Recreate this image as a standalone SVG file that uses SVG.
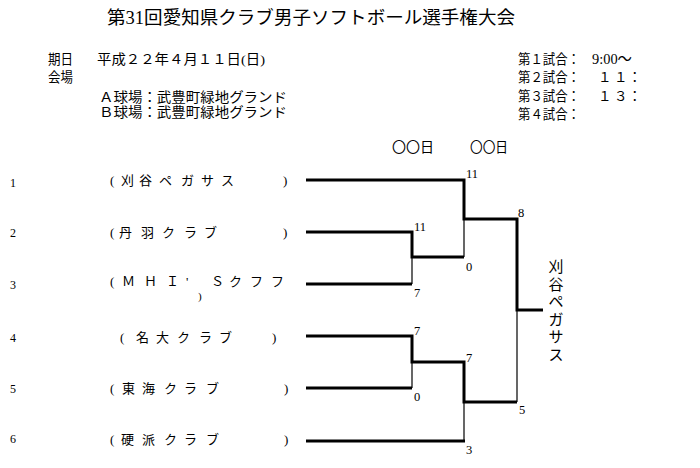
<svg xmlns="http://www.w3.org/2000/svg" width="700" height="468" viewBox="0 0 700 468">
<style>
  text { font-family: "Liberation Serif", "Noto Sans CJK JP", serif; fill: #000; }
  .title { font-size: 18px; }
  .hd { font-size: 13.5px; }
  .time { font-size: 15px; }
  .team { font-size: 13px; }
  .paren { font-size: 11px; }
  .num { font-size: 12px; }
  .score { font-size: 12.5px; }
  .win { font-size: 15px; }
  .thick { fill: none; stroke: #000; stroke-width: 3; stroke-linejoin: miter; stroke-linecap: butt; }
  .thin { fill: none; stroke: #000; stroke-width: 1.2; }
</style>
<rect width="700" height="468" fill="#fff"/>

<g id="header">
  <text class="title" x="107" y="24" textLength="408" lengthAdjust="spacingAndGlyphs">第31回愛知県クラブ男子ソフトボール選手権大会</text>
  <text class="hd" x="48" y="64" textLength="25" lengthAdjust="spacingAndGlyphs">期日</text>
  <text class="hd" x="48" y="82" textLength="25" lengthAdjust="spacingAndGlyphs">会場</text>
  <text class="hd" x="97" y="64" textLength="168" lengthAdjust="spacingAndGlyphs">平成２２年４月１１日(日)</text>
  <text class="hd" x="99" y="102" textLength="188" lengthAdjust="spacingAndGlyphs">Ａ球場：武豊町緑地グランド</text>
  <text class="hd" x="99" y="117" textLength="188" lengthAdjust="spacingAndGlyphs">Ｂ球場：武豊町緑地グランド</text>
  <text class="hd" x="518" y="64" textLength="62" lengthAdjust="spacingAndGlyphs">第１試合：</text>
  <text class="time" x="592" y="64" textLength="40" lengthAdjust="spacingAndGlyphs">9:00～</text>
  <text class="hd" x="518" y="82" textLength="62" lengthAdjust="spacingAndGlyphs">第２試合：</text>
  <text class="hd" x="598 614 628" y="82">１１：</text>
  <text class="hd" x="518" y="101" textLength="62" lengthAdjust="spacingAndGlyphs">第３試合：</text>
  <text class="hd" x="598 614 628" y="101">１３：</text>
  <text class="hd" x="518" y="119" textLength="62" lengthAdjust="spacingAndGlyphs">第４試合：</text>
  <text class="hd" x="392" y="152" textLength="42" lengthAdjust="spacingAndGlyphs">〇〇日</text>
  <text class="hd" x="470" y="152" textLength="38" lengthAdjust="spacingAndGlyphs">〇〇日</text>
</g>

<g id="team1">
  <text class="num" x="10" y="187">1</text>
  <text class="team" x="110 121 139 159 181 201 221 283" y="185">(刈谷ペガサス)</text>
</g>
<g id="team2">
  <text class="num" x="10" y="237">2</text>
  <text class="team" x="110 119 141 162 184 204 283" y="237">(丹羽クラブ)</text>
</g>
<g id="team3">
  <text class="num" x="10" y="289">3</text>
  <text class="team" x="110 122 144 166 186 211 229 250 271" y="286">(ＭＨＩ'Ｓクフフ</text>
  <text class="paren" x="198" y="300">)</text>
</g>
<g id="team4">
  <text class="num" x="10" y="342">4</text>
  <text class="team" x="120 136 156 177 199 219 272" y="342">(名大クラブ)</text>
</g>
<g id="team5">
  <text class="num" x="10" y="393">5</text>
  <text class="team" x="110 122 142 164 184 206 284" y="393">(東海クラブ)</text>
</g>
<g id="team6">
  <text class="num" x="10" y="443">6</text>
  <text class="team" x="110 121 142 164 184 206 284" y="444">(硬派クラブ)</text>
</g>

<g id="connectors">
  <path class="thick" d="M306,180 H464 V219 H517 V310 H543"/>
  <path class="thick" d="M306,232 H412 V257 H464"/>
  <path class="thick" d="M306,284 H412"/>
  <path class="thick" d="M306,336 H412 V362 H464 V402 H517"/>
  <path class="thick" d="M306,388 H412"/>
  <path class="thick" d="M306,441 H465"/>
  <path class="thin" d="M464,219 V257"/>
  <path class="thin" d="M412,257 V284"/>
  <path class="thin" d="M412,362 V388"/>
  <path class="thin" d="M464,402 V441"/>
  <path class="thin" d="M517,310 V402"/>
</g>

<g id="scores">
  <text class="score" x="466" y="178">11</text>
  <text class="score" x="518" y="217">8</text>
  <text class="score" x="414" y="231">11</text>
  <text class="score" x="466" y="271">0</text>
  <text class="score" x="414" y="297">7</text>
  <text class="score" x="414" y="335">7</text>
  <text class="score" x="466" y="362">7</text>
  <text class="score" x="414" y="401">0</text>
  <text class="score" x="519" y="414">5</text>
  <text class="score" x="466" y="454">3</text>
</g>

<g id="winner">
  <text class="win" text-anchor="middle" x="556 556 556 556 556 556" y="272 289.5 307 324.5 342 359.5">刈谷ペガサス</text>
</g>
</svg>
